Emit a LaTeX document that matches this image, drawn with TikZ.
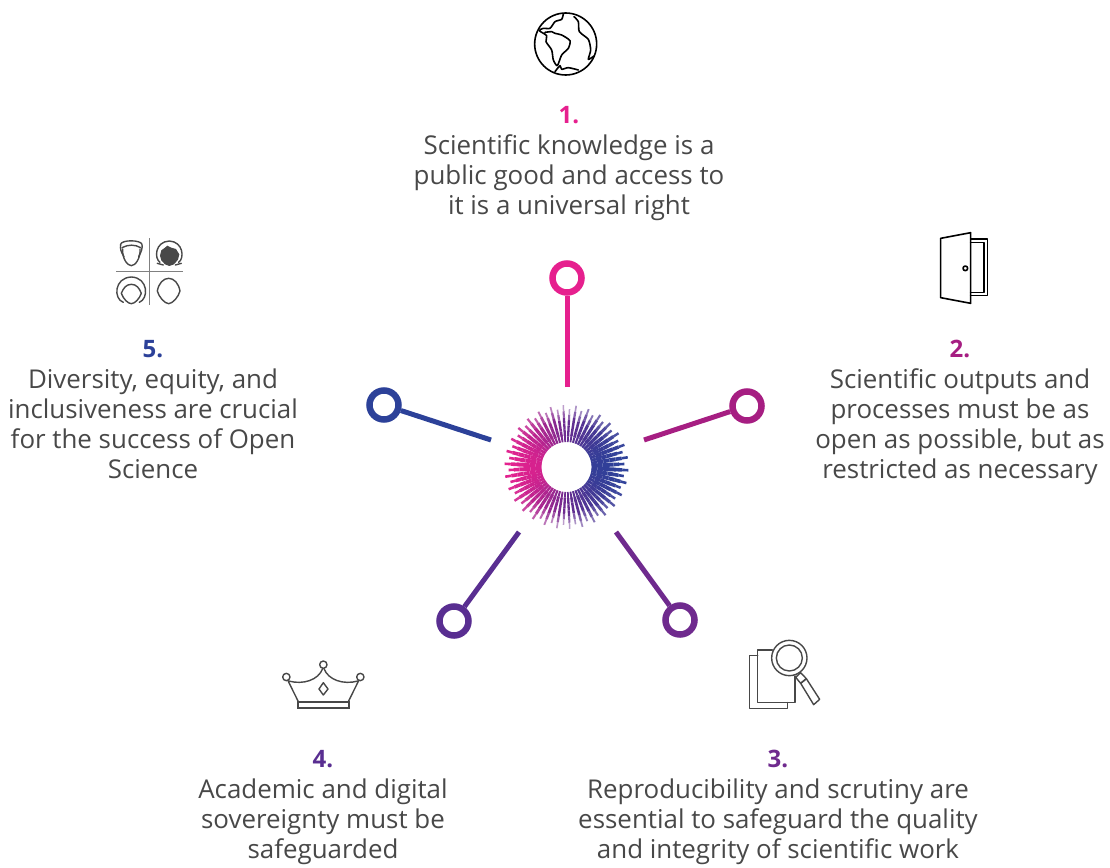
\documentclass[tikz,border=0pt]{standalone}
\usepackage{fontspec}
\setmainfont{Open Sans}[BoldFont={Open Sans Bold}]
\definecolor{cA}{HTML}{E6208E}
\definecolor{cB}{HTML}{A61E82}
\definecolor{cC}{HTML}{6F2A8E}
\definecolor{cD}{HTML}{6A2C90}
\definecolor{cF}{HTML}{592E91}
\definecolor{cE}{HTML}{2C4199}
\definecolor{ink}{HTML}{484848}
\tikzset{
 hub/.style={circle,draw=#1,line width=6.5pt,fill=white,minimum size=29pt,inner sep=0pt},
 spokeline/.style={line width=5pt},
 num/.style={font=\fontsize{24}{30}\selectfont\bfseries,anchor=base,inner sep=0pt},
 desc/.style={font=\fontsize{25.9}{30}\selectfont,align=center,anchor=base,inner sep=0pt,text=ink},
 ico/.style={line width=1.6pt,line join=round,line cap=round,draw=black},
 icg/.style={line width=1.4pt,line join=round,line cap=round,draw=ink},
}
\begin{document}
\begin{tikzpicture}[x=1pt,y=-1pt]
\useasboundingbox (0,0) rectangle (1110,867);
% sunburst
\foreach \i in {0,...,59}{
  \pgfmathsetmacro{\ang}{\i*6+3}
  \pgfmathsetmacro{\rout}{mod(\i,2)==0?62:58}
  \pgfmathsetmacro{\wid}{2.2+1.8*abs(cos(\ang))}
  \pgfmathsetmacro{\ca}{cos(\ang)}\pgfmathsetmacro{\sa}{sin(\ang)}
  \foreach \k in {0,...,5}{
    \pgfmathsetmacro{\ra}{25+(\rout-25)*\k/6}
    \pgfmathsetmacro{\rb}{25+(\rout-25)*(\k+1)/6}
    \pgfmathsetmacro{\rm}{(\ra+\rb)/2}
    \pgfmathsetmacro{\t}{((0.75*62+0.25*\rm)*\ca+62)/124}
    \pgfmathtruncatemacro{\pct}{\t<.5 ? 100*(1-2*\t) : 100*(2-2*\t)}
    \pgfmathsetmacro{\wa}{\wid*(\k==5?0.65:(\k==4?0.9:(\k==0?0.75:1)))}
    \pgfmathtruncatemacro{\op}{100-(\k>=4 ? 28*(\k-3)*(1-abs(\ca)) : 0)}
    \ifdim \t pt<0.5pt
      \colorlet{sc}{cA!\pct!cD}
    \else
      \colorlet{sc}{cD!\pct!cE}
    \fi
    \draw[sc!\op!white,line width=\wa pt] ({566.5+\ra*\ca},{467+\ra*\sa}) -- ({566.5+\rb*\ca},{467+\rb*\sa});
  }
}
% hubs
\node[hub=cA] (h1) at (567,278) {};
\node[hub=cB] (h2) at (747,406) {};
\node[hub=cC] (h3) at (680,620) {};
\node[hub=cF] (h4) at (454,621) {};
\node[hub=cE] (h5) at (384,405) {};
\coordinate (e1) at (567,387);
\coordinate (e2) at (644,440);
\coordinate (e3) at (616,532);
\coordinate (e4) at (519,532);
\coordinate (e5) at (491,440);
\draw[spokeline,cA] (e1) -- (h1);
\draw[spokeline,cB] (e2) -- (h2);
\draw[spokeline,cC] (e3) -- (h3);
\draw[spokeline,cF] (e4) -- (h4);
\draw[spokeline,cE] (e5) -- (h5);
% texts
\node[num,text=cA] (n1) at (569,123) {1.};
\node[desc] (t1) at (569,214) {Scientific knowledge is a\\public good and access to\\it is a universal right};
\node[num,text=cB] (n2) at (960,357) {2.};
\node[desc] (t2) at (960,478) {Scientific outputs and\\processes must be as\\open as possible, but as\\restricted as necessary};
\node[num,text=cC] (n3) at (778,767) {3.};
\node[desc] (t3) at (778,858) {Reproducibility and scrutiny are\\essential to safeguard the quality\\and integrity of scientific work};
\node[num,text=cF] (n4) at (323,767) {4.};
\node[desc] (t4) at (323,858) {Academic and digital\\sovereignty must be\\safeguarded};
\node[num,text=cE] (n5) at (153,357) {5.};
\node[desc] (t5) at (153,478) {Diversity, equity, and\\inclusiveness are crucial\\for the success of Open\\Science};
% globe
\begin{scope}[shift={(520,0)},x=.3333pt,y=-.3333pt]
\draw[ico] (137,132) circle (93);
\draw[ico] plot[smooth,tension=.4] coordinates {(130,42)(125,58)(105,65)(90,85)(70,85)(58,92)(80,107)(78,125)(95,150)(100,180)(112,197)(125,165)(145,145)(150,122)(125,105)(105,100)(95,95)(75,97)};
\draw[ico] plot[smooth,tension=.4] coordinates {(162,50)(175,65)(178,95)(205,118)(212,150)(205,178)(222,168)};
\draw[ico] plot[smooth,tension=.4] coordinates {(105,215)(120,197)(125,208)(145,203)(175,210)};
\end{scope}
% door
\begin{scope}[shift={(920,225)},x=.3333pt,y=-.3333pt]
\draw[ico] (62,40) -- (152,23) -- (152,235) -- (62,218) -- cycle;
\draw[ico] (152,42) -- (202,42) -- (202,212) -- (152,212);
\draw[ico] (152,52) -- (192,52) -- (192,202) -- (152,202);
\draw[ico] (136,130) circle (7);
\end{scope}
% faces
\begin{scope}[shift={(100,225)},x=.3333pt,y=-.3333pt]
\draw[line width=1.6pt,draw=gray] (149,40) -- (149,240);
\draw[line width=1.6pt,draw=gray] (48,140) -- (250,140);
\draw[icg] (72,95) .. controls (62,80) and (60,70) .. (62,58) .. controls (64,44) and (122,44) .. (126,58) .. controls (128,70) and (124,80) .. (116,95);
\draw[icg] (66,68) .. controls (85,58) and (105,58) .. (122,68);
\draw[icg] (68,72) .. controls (66,100) and (82,122) .. (94,122) .. controls (106,122) and (122,100) .. (120,72);
\draw[icg] (180,112) .. controls (162,100) and (165,50) .. (208,48) .. controls (250,50) and (254,100) .. (236,112);
\draw[icg] (172,115) -- (190,120);\draw[icg] (244,115) -- (226,120);
\fill[ink] (180,92) -- (184,76) -- (195,68) -- (202,62) -- (214,68) -- (228,72) -- (238,88) -- (234,104) -- (222,118) -- (208,123) -- (195,118) -- (184,106) -- cycle;
\draw[icg] (70,232) .. controls (40,222) and (42,158) .. (94,156) .. controls (146,158) and (146,222) .. (118,232);
\draw[icg] (64,205) .. controls (70,190) and (78,178) .. (94,178) .. controls (110,178) and (118,190) .. (124,205) .. controls (118,222) and (104,236) .. (94,236) .. controls (84,236) and (70,222) .. (64,205) -- cycle;
\draw[icg] (172,198) .. controls (176,175) and (190,160) .. (206,160) .. controls (222,160) and (236,175) .. (240,198) .. controls (236,215) and (218,236) .. (206,236) .. controls (194,236) and (176,215) .. (172,198) -- cycle;
\end{scope}
% magnifier
\begin{scope}[shift={(735,630)},x=.3333pt,y=-.3333pt]
\draw[icg] (68,76) -- (43,76) -- (43,235) -- (157,235) -- (157,218);
\draw[icg] (112,60) -- (68,60) -- (68,218) -- (180,218) -- (180,138);
\draw[icg,fill=white] (163,84) circle (53);
\draw[icg] (163,84) circle (39);
\draw[icg] (197,128) -- (182,142) -- (197,160) -- (214,146) -- cycle;
\draw[icg] (197,160) -- (214,146) -- (254,208) -- (236,224) -- cycle;
\end{scope}
% crown
\begin{scope}[shift={(270,650)},x=.3333pt,y=-.3333pt]
\draw[icg] (49,81) circle (11);
\draw[icg] (160,44) circle (11);
\draw[icg] (271,81) circle (11);
\draw[icg] (54,92) -- (85,155);
\draw[icg] (266,92) -- (235,155);
\draw[icg] (56,93) .. controls (100,105) and (145,90) .. (158,56);
\draw[icg] (264,93) .. controls (220,105) and (175,90) .. (162,56);
\draw[icg] (160,98) -- (174,117) -- (160,135) -- (147,117) -- cycle;
\draw[line width=2pt,draw=ink] (84,155) rectangle (237,175);
\end{scope}
\end{tikzpicture}
\end{document}
